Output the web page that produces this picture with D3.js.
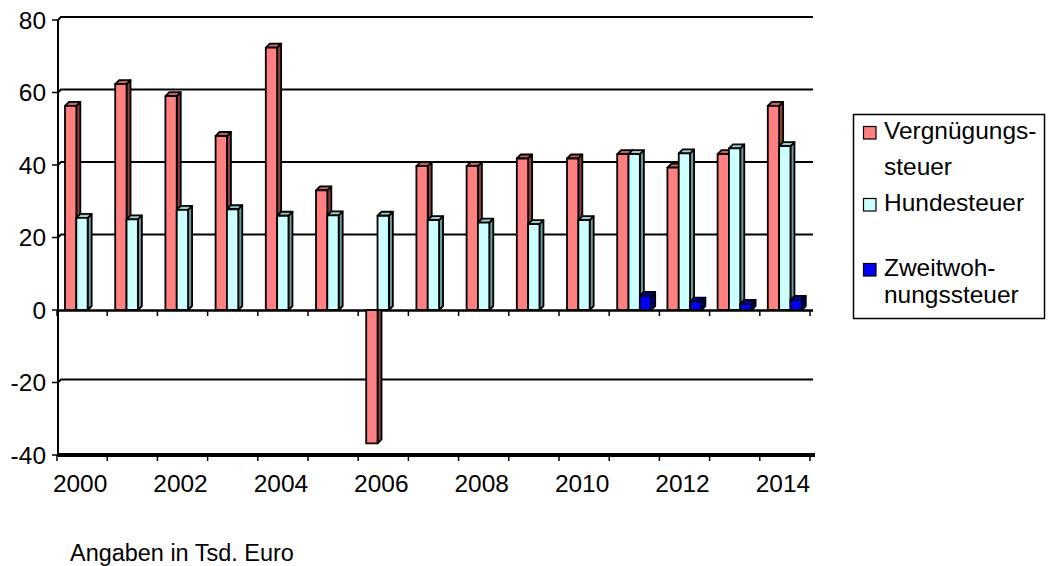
<!DOCTYPE html>
<html>
<head>
<meta charset="utf-8">
<script src="https://cdn.jsdelivr.net/npm/d3@7"></script>
<style>
  html, body { margin: 0; padding: 0; background: #fff; }
  svg { display: block; }
  text { font-family: "Liberation Sans", Arial, sans-serif; fill: #000; }
</style>
</head>
<body>
<svg id="chart" width="1053" height="566"></svg>
<script>
const years = [2000,2001,2002,2003,2004,2005,2006,2007,2008,2009,2010,2011,2012,2013,2014];
const vergnuegungssteuer = [56.3,62.3,59,48,72.4,33,-36.8,39.7,39.7,41.8,41.8,43,39.3,43,56.3];
const hundesteuer = [25.4,25,27.6,27.8,26,26.1,26,24.8,24.1,23.7,24.8,43,43.2,44.6,45.2];
const zweitwohnungssteuer = [null,null,null,null,null,null,null,null,null,null,null,3.9,2.3,1.7,2.8];
const seriesNames = ["Vergnügungssteuer","Hundesteuer","Zweitwohnungssteuer"];
const legendLines = [["Vergnügungs-","steuer"],["Hundesteuer"],["Zweitwoh-","nungssteuer"]];
const yTicks = [-40,-20,0,20,40,60,80];
const xLabelYears = [2000,2002,2004,2006,2008,2010,2012,2014];
const caption = "Angaben in Tsd. Euro";

const colors = [
  {front:"#FF8080", side:"#8c4040", top:"#c06060"},
  {front:"#CCFFFF", side:"#6e9999", top:"#99cccc"},
  {front:"#0000FF", side:"#000080", top:"#0000b0"}
];
const seriesValues = [vergnuegungssteuer, hundesteuer, zweitwohnungssteuer];

const svg = d3.select("#chart");
const SX = 1.02, FS = 24;
const depthX = 4, depthY = 4;

const x = d3.scaleBand().domain(years).range([57, 810]).padding(0);
const xs = d3.scaleBand().domain(seriesNames).range([8, 42]).padding(0);
const y = d3.scaleLinear().domain([-40, 80]).range([455, 20]);

function stretchedText(g, str, tx, ty, anchor, size, sx) {
  return g.append("text")
    .attr("transform", `translate(${tx},${ty}) scale(${sx || SX},1)`)
    .attr("text-anchor", anchor)
    .style("font-size", (size || FS) + "px")
    .text(str);
}

// gridlines on back wall
const grid = svg.append("g");
yTicks.filter(v => v !== 0 && v !== -40).forEach(v => {
  const yy = y(v);
  grid.append("path")
    .attr("d", `M58,${yy} L${58+3},${yy-3} H813`)
    .attr("fill","none").attr("stroke","#000").attr("stroke-width",2);
});

// y axis
svg.append("line").attr("x1",58).attr("x2",58).attr("y1",y(80)).attr("y2",y(-40))
  .attr("stroke","#000").attr("stroke-width",2);
yTicks.forEach(v => {
  svg.append("line").attr("x1",52).attr("x2",58).attr("y1",y(v)).attr("y2",y(v))
    .attr("stroke","#000").attr("stroke-width",1.5);
  stretchedText(svg, String(v), 46, y(v) + 8.5, "end");
});

// bottom floor line (-40)
svg.append("line").attr("x1",58).attr("x2",815).attr("y1",y(-40)).attr("y2",y(-40))
  .attr("stroke","#000").attr("stroke-width",4);
years.concat([null]).forEach((yr, i) => {
  const xx = 57 + i * x.bandwidth();
  svg.append("line").attr("x1",xx).attr("x2",xx).attr("y1",y(-40)).attr("y2",y(-40)+6)
    .attr("stroke","#000").attr("stroke-width",1.5);
});

// zero axis
svg.append("line").attr("x1",58).attr("x2",813).attr("y1",y(0)+0.5).attr("y2",y(0)+0.5)
  .attr("stroke","#000").attr("stroke-width",2.5);
years.concat([null]).forEach((yr, i) => {
  const xx = 57 + i * x.bandwidth();
  svg.append("line").attr("x1",xx).attr("x2",xx).attr("y1",y(0)).attr("y2",y(0)+6)
    .attr("stroke","#000").attr("stroke-width",1.5);
});

// bars (3D)
const bars = svg.append("g");
years.forEach((yr, i) => {
  seriesNames.forEach((s, j) => {
    const v = seriesValues[j][i];
    if (v === null || v === undefined) return;
    const x0 = x(yr) + xs(s);
    const w = xs.bandwidth();
    const y0 = y(0), y1 = y(v);
    const top = Math.min(y0, y1), bot = Math.max(y0, y1);
    const c = colors[j];
    const g = bars.append("g").attr("stroke","#000").attr("stroke-width",1.8).attr("stroke-linejoin","round");
    g.append("path")
      .attr("d", `M${x0+w},${top} L${x0+w+depthX},${top-depthY} L${x0+w+depthX},${bot-depthY} L${x0+w},${bot} Z`)
      .attr("fill", c.side);
    if (v >= 0) {
      g.append("path")
        .attr("d", `M${x0},${top} L${x0+depthX},${top-depthY} L${x0+w+depthX},${top-depthY} L${x0+w},${top} Z`)
        .attr("fill", c.top);
    }
    g.append("rect").attr("x", x0).attr("y", top).attr("width", w).attr("height", bot - top)
      .attr("fill", c.front);
  });
});

// x labels
xLabelYears.forEach(yr => {
  stretchedText(svg, String(yr), x(yr) + x.bandwidth()/2 - 2, 492, "middle");
});

// legend
const lg = svg.append("g");
lg.append("rect").attr("x",853.5).attr("y",114.5).attr("width",191).attr("height",204)
  .attr("fill","#fff").attr("stroke","#000").attr("stroke-width",1.5);
const legendBaselines = [[139, 175],[211],[276, 303]];
legendLines.forEach((lines, j) => {
  const b0 = legendBaselines[j][0];
  lg.append("rect").attr("x",863.5).attr("y",b0-12.5).attr("width",12.5).attr("height",12.5)
    .attr("fill",colors[j].front).attr("stroke","#000").attr("stroke-width",1.2);
  lines.forEach((ln, k) => {
    stretchedText(lg, ln, 884, legendBaselines[j][k], "start");
  });
});

// caption
stretchedText(svg, caption, 70, 561, "start", 23, 1.02);
</script>
</body>
</html>
